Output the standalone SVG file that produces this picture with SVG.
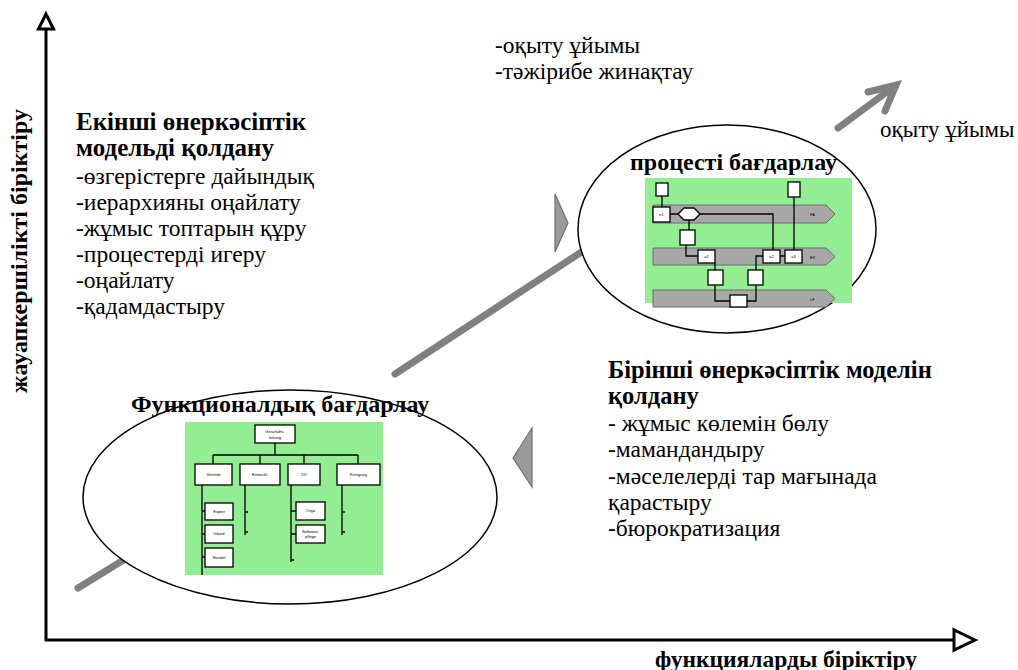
<svg xmlns="http://www.w3.org/2000/svg" width="1018" height="670" viewBox="0 0 1018 670">
<rect width="1018" height="670" fill="#fff"/>

<g id="axes" fill="none" stroke="#000" stroke-width="3">
<line x1="46" y1="28" x2="46" y2="641"/>
<polygon points="46,14 38.5,29 53.5,29" fill="#fff"/>
<line x1="45" y1="640" x2="954" y2="640"/>
<polygon points="975,640 954,630 954,650" fill="#fff"/>
</g>
<g id="axis-labels">
<text transform="translate(27,251) rotate(-90)" text-anchor="middle" font-family="Liberation Serif" font-weight="bold" font-size="24">жауапкершілікті біріктіру</text>
<text x="655" y="667" font-family="Liberation Serif" font-weight="bold" font-size="23.5">функцияларды біріктіру</text>
</g>

<g id="connectors" stroke="#808080" stroke-width="7" stroke-linecap="round" fill="none">
<line x1="78" y1="588" x2="122" y2="561"/>
<line x1="395" y1="374" x2="586" y2="249"/>
<line x1="838" y1="128" x2="895" y2="86"/>
<polyline points="868,92 896,85 885,111"/>
</g>

<g id="node-functional">
<ellipse cx="290" cy="497" rx="207" ry="107" fill="#fff" stroke="#000" stroke-width="1.5"/>
<text x="131" y="412" font-family="Liberation Serif" font-weight="bold" font-size="24">Функционалдық бағдарлау</text>
<rect x="185" y="422" width="198" height="153" fill="#93ee93"/>
<g fill="#fff" stroke="#000" stroke-width="1.3">
<path fill="none" d="M275,443V455M213,455H358M213,455V464M260,455V464M304,455V464M358,455V464M202,485V575M202,511H205M202,534H205M202,557H205M245,485V535M245,512H248M245,532H248M291,485V562M291,511H296M291,534H296M291,560H294M342,485V535M342,512H345M342,532H345"/>
<rect x="255" y="425" width="40" height="18"/>
<rect x="195" y="464" width="37" height="21"/>
<rect x="240" y="464" width="40" height="21"/>
<rect x="288" y="464" width="32" height="21"/>
<rect x="337" y="464" width="43" height="21"/>
<rect x="205" y="503" width="28" height="17"/>
<rect x="205" y="525" width="28" height="18"/>
<rect x="205" y="548" width="28" height="19"/>
<rect x="296" y="502" width="29" height="18"/>
<rect x="296" y="525" width="29" height="18"/>
</g>
<g font-family="Liberation Sans" font-size="4" text-anchor="middle" fill="#000">
<text x="275" y="433">Geschäfts-</text>
<text x="275" y="439">leitung</text>
<text x="213.5" y="476">Vertrieb</text>
<text x="260" y="476">Entwickl.</text>
<text x="304" y="476">DV</text>
<text x="358.5" y="476">Fertigung</text>
<text x="219" y="513">Export</text>
<text x="219" y="535">Inland</text>
<text x="219" y="559">Handel</text>
<text x="310.5" y="512">Orga</text>
<text x="310.5" y="533">Software-</text>
<text x="310.5" y="538">pflege</text>
</g>
</g>

<g id="node-process">
<ellipse cx="727" cy="229" rx="149" ry="104" fill="#fff" stroke="#000" stroke-width="1.5"/>
<text x="630" y="170" font-family="Liberation Serif" font-weight="bold" font-size="24">процесті бағдарлау</text>
<rect x="645" y="178" width="207" height="125" fill="#93ee93"/>
<g fill="#a8a8a8" stroke="#6a6a6a" stroke-width="1">
<polygon points="653,205 826,205 835,214 826,223 653,223"/>
<polygon points="653,248 826,248 835,256.5 826,265 653,265"/>
<polygon points="653,290 826,290 835,298.5 826,307 653,307"/>
</g>
<g fill="#fff" stroke="#000" stroke-width="1.3">
<path fill="none" d="M662,196V207M670,214H678M700,214H773V250M794,197V250M689,220V230M686,245V256H698M715,263V270M715,285V301H730M747,301H756V285M756,270V256H763M780,256H785"/>
<rect x="656" y="183" width="12" height="13"/>
<rect x="788" y="182" width="12" height="15"/>
<rect x="653" y="207" width="17" height="15"/>
<polygon points="678,214 684,208 694,208 700,214 694,220 684,220"/>
<rect x="680" y="230" width="15" height="15"/>
<rect x="698" y="250" width="17" height="13"/>
<rect x="763" y="250" width="17" height="13"/>
<rect x="785" y="250" width="17" height="13"/>
<rect x="708" y="270" width="15" height="15"/>
<rect x="748" y="270" width="15" height="15"/>
<rect x="730" y="295" width="17" height="12"/>
</g>
<g font-family="Liberation Sans" font-size="4" fill="#000">
<text x="810" y="216">FA</text>
<text x="810" y="259">EK</text>
<text x="810" y="301">LF</text>
<text x="661.5" y="216" text-anchor="middle">e1</text>
<text x="706.5" y="258" text-anchor="middle">a1</text>
<text x="771.5" y="258" text-anchor="middle">a2</text>
<text x="793.5" y="258" text-anchor="middle">a3</text>
</g>
</g>

<g id="markers" fill="#9a9a9a" stroke="#6f6f6f" stroke-width="1.2">
<polygon points="555,194 568,223 555,252"/>
<polygon points="532,428 513,458 532,487"/>
</g>

<g id="text-second-model">
<text x="76" y="130" font-family="Liberation Serif" font-weight="bold" font-size="25">Екінші өнеркәсіптік</text>
<text x="76" y="156" font-family="Liberation Serif" font-weight="bold" font-size="25">модельді қолдану</text>
<text x="76" y="184" font-family="Liberation Serif" font-size="23.5">-өзгерістерге дайындық</text>
<text x="76" y="210" font-family="Liberation Serif" font-size="23.5">-иерархияны оңайлату</text>
<text x="76" y="236" font-family="Liberation Serif" font-size="23.5">-жұмыс топтарын құру</text>
<text x="76" y="262" font-family="Liberation Serif" font-size="23.5">-процестерді игеру</text>
<text x="76" y="288" font-family="Liberation Serif" font-size="23.5">-оңайлату</text>
<text x="76" y="314" font-family="Liberation Serif" font-size="23.5">-қадамдастыру</text>
</g>

<g id="text-first-model">
<text x="608" y="378" font-family="Liberation Serif" font-weight="bold" font-size="24.5">Бірінші өнеркәсіптік моделін</text>
<text x="608" y="404" font-family="Liberation Serif" font-weight="bold" font-size="24.5">қолдану</text>
<text x="608" y="431" font-family="Liberation Serif" font-size="23.5">- жұмыс көлемін бөлу</text>
<text x="608" y="457" font-family="Liberation Serif" font-size="23.5">-мамандандыру</text>
<text x="608" y="484" font-family="Liberation Serif" font-size="23.5">-мәселелерді тар мағынада</text>
<text x="608" y="510" font-family="Liberation Serif" font-size="23.5">қарастыру</text>
<text x="608" y="536" font-family="Liberation Serif" font-size="23.5">-бюрократизация</text>
</g>

<g id="text-top">
<text x="495" y="53" font-family="Liberation Serif" font-size="23.5">-оқыту ұйымы</text>
<text x="495" y="79" font-family="Liberation Serif" font-size="23.5">-тәжірибе жинақтау</text>
<text x="880" y="137" font-family="Liberation Serif" font-size="23">оқыту ұйымы</text>
</g>
</svg>
